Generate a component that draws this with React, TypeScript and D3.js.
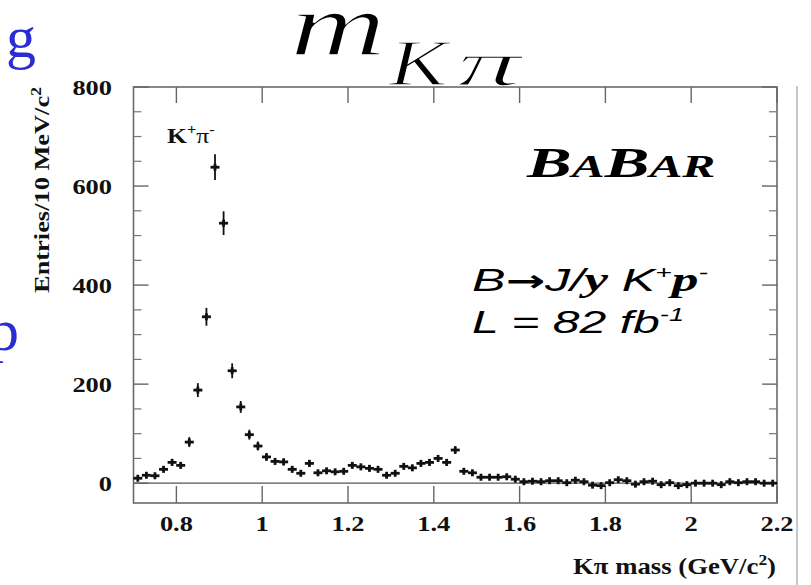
import React, { useLayoutEffect, useRef, useState } from 'react';
import * as d3 from 'd3';

// K pi invariant mass, 20 MeV bins starting at 0.70 GeV/c^2
const BIN_LO = 0.7;
const BIN_W = 0.02;

const counts: number[] = [
  10, 16, 15, 28, 42, 36, 83, 188, 336, 638,
  525, 227, 154, 98, 75, 53, 44, 43, 28, 20,
  40, 21, 25, 23, 24, 36, 33, 30, 28, 16,
  20, 34, 31, 40, 42, 50, 42, 67, 24, 21,
  12, 12, 12, 13, 8, 3, 4, 3, 5, 5,
  1, 6, 3, -4, -5, 1, 7, 5, -2, 3,
  4, -3, 1, -5, -3, 0, 0, 0, -3, 3,
  1, 3, 3, 0, 0,
];

const errors: number[] = [
  4, 5, 5, 6, 7, 6, 10, 14, 18, 26,
  24, 15, 12, 10, 9, 8, 7, 7, 6, 5,
  7, 5, 5, 5, 5, 6, 6, 6, 6, 5,
  5, 6, 6, 7, 7, 7, 7, 8, 5, 5,
  4, 4, 4, 4, 3, 3, 3, 3, 3, 3,
  3, 3, 3, 3, 3, 3, 3, 3, 3, 3,
  3, 3, 3, 3, 3, 3, 3, 3, 3, 3,
  3, 3, 3, 3, 3,
];

const xTicks = [0.8, 1, 1.2, 1.4, 1.6, 1.8, 2, 2.2];
const xTickLabels = ['0.8', '1', '1.2', '1.4', '1.6', '1.8', '2', '2.2'];
const yTicks = [0, 200, 400, 600, 800];
const yMinorTicks = d3.range(50, 800, 50).filter((v) => v % 200 !== 0);

const W = 811;
const H = 585;
const serif = '"Liberation Serif", "Times New Roman", serif';
const sans = '"Liberation Sans", Arial, sans-serif';
const blue = '#2c2cd4';

// the slide the chart comes from is stretched sideways, so text is squeezed
// or widened to a measured width
type FitProps = {
  x: number;
  y: number;
  width?: number;
  sx?: number;
  anchor?: 'start' | 'middle' | 'end';
  rotate?: number;
  children: React.ReactNode;
  [k: string]: any;
};

function FitText({ x, y, width, sx, anchor = 'start', rotate = 0, children, ...rest }: FitProps) {
  const ref = useRef<SVGTextElement>(null);
  const [s, setS] = useState(sx ?? 1);
  useLayoutEffect(() => {
    if (width && ref.current) {
      const w = ref.current.getBBox().width;
      if (w > 0) setS(width / w);
    }
  }, [width]);
  return (
    <g transform={`translate(${x},${y}) rotate(${rotate}) scale(${s},1)`}>
      <text ref={ref} x={0} y={0} textAnchor={anchor} {...rest}>{children}</text>
    </g>
  );
}

export default function App() {
  const x = d3.scaleLinear().domain([0.7, 2.2]).range([133.5, 777]);
  const y = d3.scaleLinear().domain([-40, 800]).range([503, 87]);
  const [x0, x1] = x.range();
  const [yb, yt] = y.range();

  const points = counts.map((c, i) => ({
    m: BIN_LO + BIN_W * (i + 0.5),
    c,
    e: errors[i],
  }));

  const thin = { stroke: '#fff', strokeWidth: 1.6 };

  return (
    <div style={{ position: 'fixed', left: 0, top: 0, width: W, height: H, background: '#fff' }}>
      <svg width={W} height={H} style={{ display: 'block' }}>
        {/* clipped slide text at the left edge */}
        <text x={6} y={57} fontFamily={serif} fontSize={60} fill={blue}>g</text>
        <text x={-11} y={350} fontFamily={serif} fontSize={60} fill={blue}>p</text>

        {/* title m_{K pi} */}
        <FitText x={290} y={55} width={96} fontFamily={serif} fontStyle="italic" fontSize={88} {...thin}>m</FitText>
        <FitText x={389} y={85} width={64} fontFamily={serif} fontStyle="italic" fontSize={66} {...thin}>K</FitText>
        <FitText x={457} y={85} width={68} fontFamily={serif} fontStyle="italic" fontSize={64} {...thin}>π</FitText>

        {/* page edge */}
        <line x1={797} x2={797} y1={86} y2={H} stroke="#c8c8c8" strokeWidth={2} />

        {/* frame */}
        <rect x={x0} y={yt} width={x1 - x0} height={yb - yt} fill="none" stroke="#6a6a6a" strokeWidth={1.6} />
        <line x1={x0} x2={x1} y1={y(0)} y2={y(0)} stroke="#555" strokeWidth={1.3} />

        {/* y ticks left and right */}
        {yTicks.map((v) => (
          <g key={'yt' + v} stroke="#666" strokeWidth={1.4}>
            <line x1={x0} x2={x0 + 15} y1={y(v)} y2={y(v)} />
            <line x1={x1} x2={x1 - 15} y1={y(v)} y2={y(v)} />
          </g>
        ))}
        {yMinorTicks.map((v) => (
          <g key={'ym' + v} stroke="#777" strokeWidth={1.2}>
            <line x1={x0} x2={x0 + 8} y1={y(v)} y2={y(v)} />
            <line x1={x1} x2={x1 - 8} y1={y(v)} y2={y(v)} />
          </g>
        ))}
        {/* x ticks bottom and top */}
        {xTicks.map((v) => (
          <g key={'xt' + v} stroke="#666" strokeWidth={1.4}>
            <line x1={x(v)} x2={x(v)} y1={yb} y2={yb - 17} />
            <line x1={x(v)} x2={x(v)} y1={yt} y2={yt + 16} />
          </g>
        ))}

        {/* tick labels */}
        {yTicks.map((v) => (
          <FitText key={'yl' + v} x={112} y={y(v) + 7.5} sx={1.2} anchor="end"
            fontFamily={serif} fontWeight="bold" fontSize={22} fill="#111">{String(v)}</FitText>
        ))}
        {xTicks.map((v, i) => (
          <FitText key={'xl' + v} x={x(v)} y={531} sx={1.2} anchor="middle"
            fontFamily={serif} fontWeight="bold" fontSize={22} fill="#111">{xTickLabels[i]}</FitText>
        ))}

        {/* axis titles */}
        <FitText x={49} y={190} rotate={-90} width={206} anchor="middle"
          fontFamily={serif} fontWeight="bold" fontSize={21} fill="#111">
          Entries/10 MeV/c<tspan dy={-8} fontSize={14}>2</tspan>
        </FitText>
        <FitText x={776} y={574} width={203} anchor="end"
          fontFamily={serif} fontWeight="bold" fontSize={23} fill="#111">
          Kπ mass (GeV/c<tspan dy={-9} fontSize={15}>2</tspan><tspan dy={9}>)</tspan>
        </FitText>

        {/* data points with error bars */}
        {points.map((p, i) => {
          const cx = x(p.m);
          const cy = y(p.c);
          return (
            <g key={i} stroke="#111">
              <line x1={cx} x2={cx} y1={y(p.c - p.e)} y2={y(p.c + p.e)} strokeWidth={1.8} />
              <line x1={cx - 4.5} x2={cx + 4.5} y1={cy} y2={cy} strokeWidth={2.8} />
              <line x1={cx} x2={cx} y1={cy - 3.5} y2={cy + 3.5} strokeWidth={2.8} />
            </g>
          );
        })}

        {/* in-plot labels */}
        <FitText x={167} y={143} width={48} fontFamily={serif} fontSize={22} fill="#111">
          <tspan fontWeight="bold">K</tspan>
          <tspan dy={-9} fontSize={14} fontWeight="bold">+</tspan>
          <tspan dy={9}>π</tspan>
          <tspan dy={-9} fontSize={14}>-</tspan>
        </FitText>

        <FitText x={527} y={177} width={190} fontFamily={serif} fontWeight="bold" fontStyle="italic" fill="#000">
          <tspan fontSize={42}>B</tspan><tspan fontSize={31}>A</tspan><tspan fontSize={42}>B</tspan><tspan fontSize={31}>AR</tspan>
        </FitText>

        <FitText x={472} y={291} width={236} fontFamily={sans} fontStyle="italic" fontSize={32} fill="#000">
          B<tspan fontFamily='"DejaVu Sans", sans-serif' fontStyle="normal" fontWeight="bold" fontSize={30}>→</tspan>J/<tspan fontFamily={serif} fontWeight="bold" fontSize={34}>y</tspan> K<tspan dy={-12} fontSize={18}>+</tspan><tspan dy={12} fontFamily={serif} fontWeight="bold" fontSize={34}>p</tspan><tspan dy={-12} fontSize={18}>-</tspan>
        </FitText>
        <FitText x={472} y={333} width={212} fontFamily={sans} fontStyle="italic" fontSize={32} fill="#000">
          L = 82 fb<tspan dy={-12} fontSize={18}>-1</tspan>
        </FitText>
      </svg>
    </div>
  );
}
